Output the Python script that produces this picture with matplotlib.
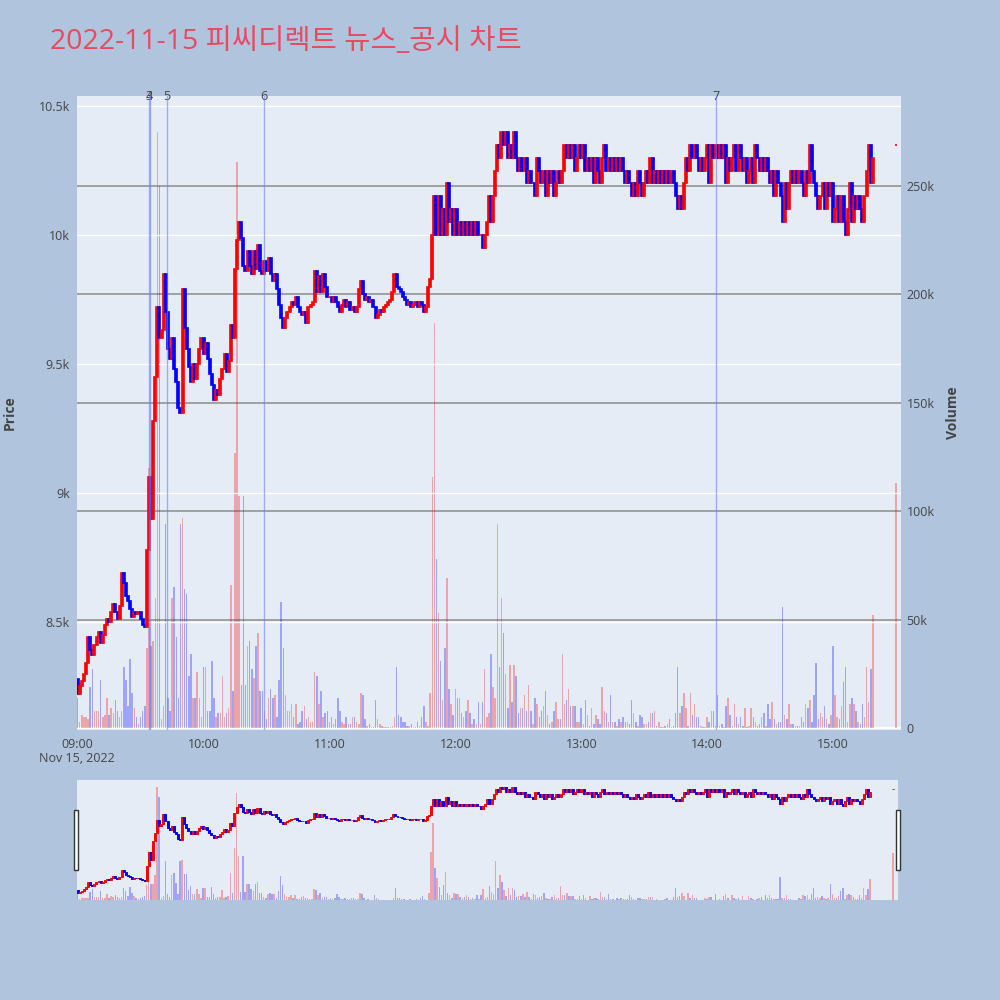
import matplotlib
matplotlib.use("Agg")
import matplotlib.pyplot as plt
from matplotlib.patches import Rectangle
import matplotlib.transforms as mtransforms

plt.rcParams['font.family'] = ['Open Sans', 'Noto Sans CJK KR', 'DejaVu Sans']

title = "2022-11-15 피씨디렉트 뉴스_공시 차트"

# minutes after 09:00 (one candle per minute, plus the 15:30 close)
minutes = list(range(380)) + [390]

first_open = 8280
close_auction_open = 10350
close_px = [
    8220, 8250, 8270, 8300, 8340, 8440, 8390, 8370, 8410, 8440,
    8460, 8420, 8450, 8490, 8510, 8500, 8540, 8570, 8540, 8510,
    8560, 8690, 8650, 8600, 8580, 8550, 8520, 8540, 8530, 8540,
    8510, 8490, 8480, 8780, 9060, 8900, 9280, 9450, 9720, 9600,
    9630, 9850, 9700, 9560, 9520, 9600, 9480, 9430, 9330, 9310,
    9790, 9640, 9560, 9490, 9430, 9500, 9440, 9500, 9560, 9600,
    9540, 9580, 9520, 9460, 9420, 9360, 9400, 9380, 9440, 9480,
    9540, 9470, 9510, 9650, 9600, 9870, 9980, 10050, 9990, 9880,
    9860, 9940, 9880, 9850, 9940, 9870, 9960, 9860, 9850, 9900,
    9860, 9910, 9850, 9820, 9850, 9790, 9730, 9680, 9640, 9680,
    9700, 9720, 9740, 9730, 9760, 9720, 9700, 9690, 9700, 9660,
    9720, 9730, 9740, 9860, 9780, 9840, 9780, 9850, 9800, 9760,
    9760, 9740, 9760, 9740, 9720, 9700, 9730, 9750, 9720, 9740,
    9710, 9720, 9700, 9720, 9790, 9820, 9770, 9750, 9760, 9740,
    9750, 9720, 9680, 9690, 9710, 9700, 9720, 9730, 9740, 9750,
    9780, 9850, 9800, 9790, 9780, 9760, 9750, 9730, 9740, 9720,
    9730, 9740, 9720, 9740, 9730, 9700, 9720, 9800, 9830, 10000,
    10150, 10000, 10150, 10000, 10100, 10000, 10200, 10050, 10100, 10000,
    10100, 10000, 10050, 10000, 10050, 10000, 10050, 10000, 10050, 10000,
    10050, 10000, 10000, 9950, 10000, 10050, 10150, 10050, 10150, 10250,
    10350, 10300, 10400, 10350, 10400, 10300, 10350, 10300, 10400, 10300,
    10250, 10300, 10250, 10300, 10200, 10250, 10200, 10200, 10150, 10300,
    10250, 10200, 10250, 10150, 10250, 10200, 10250, 10150, 10200, 10250,
    10200, 10250, 10350, 10300, 10350, 10300, 10350, 10250, 10300, 10350,
    10300, 10350, 10250, 10300, 10250, 10300, 10200, 10300, 10250, 10200,
    10300, 10350, 10250, 10300, 10250, 10300, 10250, 10300, 10250, 10300,
    10250, 10200, 10250, 10200, 10150, 10200, 10150, 10250, 10200, 10150,
    10200, 10250, 10200, 10300, 10200, 10250, 10200, 10250, 10200, 10250,
    10200, 10250, 10200, 10250, 10200, 10150, 10100, 10150, 10100, 10200,
    10300, 10250, 10350, 10300, 10350, 10300, 10250, 10300, 10250, 10300,
    10350, 10200, 10350, 10300, 10350, 10300, 10350, 10300, 10350, 10200,
    10300, 10250, 10300, 10350, 10250, 10350, 10300, 10250, 10300, 10200,
    10250, 10300, 10200, 10350, 10300, 10250, 10300, 10250, 10300, 10250,
    10200, 10250, 10150, 10250, 10200, 10150, 10050, 10200, 10100, 10200,
    10250, 10200, 10250, 10200, 10250, 10200, 10150, 10250, 10200, 10350,
    10250, 10200, 10150, 10100, 10150, 10200, 10100, 10200, 10150, 10200,
    10050, 10100, 10150, 10050, 10150, 10050, 10000, 10100, 10200, 10050,
    10150, 10100, 10150, 10100, 10050, 10150, 10250, 10350, 10200, 10300,
    10350,
]

# volume in thousands of shares
volume_k = [
    14, 3, 6, 5, 5, 4, 19, 27, 8, 8,
    8, 22, 5, 6, 14, 6, 9, 7, 13, 8,
    5, 8, 28, 22, 10, 32, 16, 9, 5, 2,
    5, 8, 10, 37, 120, 38, 40, 60, 275, 250,
    4, 10, 94, 14, 8, 60, 65, 42, 14, 94,
    97, 64, 62, 24, 34, 14, 14, 26, 14, 5,
    28, 28, 8, 8, 31, 14, 5, 7, 7, 24,
    5, 7, 9, 66, 17, 127, 261, 107, 20, 107,
    20, 38, 40, 27, 23, 38, 44, 17, 17, 8,
    4, 14, 18, 14, 15, 5, 22, 58, 37, 15,
    8, 8, 11, 5, 11, 2, 3, 8, 10, 4,
    5, 3, 3, 26, 24, 11, 17, 5, 7, 8,
    3, 5, 2, 4, 14, 8, 3, 2, 5, 2,
    2, 5, 5, 3, 2, 16, 15, 4, 1, 2,
    0.5, 0.5, 13, 4, 2, 1, 0.5, 0.5, 0.5, 0.5,
    1, 5, 28, 6, 5, 3, 3, 1, 1, 2,
    0.5, 0.5, 3, 1, 5, 10, 3, 1, 16, 116,
    187, 78, 53, 31, 13, 37, 69, 18, 11, 6,
    18, 14, 14, 7, 5, 8, 13, 7, 2, 4,
    2, 12, 2, 12, 27, 5, 7, 34, 19, 14,
    94, 28, 60, 44, 25, 9, 29, 12, 29, 24,
    7, 9, 9, 15, 8, 20, 8, 2, 14, 11,
    5, 8, 10, 17, 6, 2, 3, 8, 12, 4,
    4, 34, 11, 13, 18, 10, 10, 10, 3, 3,
    9, 2, 13, 6, 1, 9, 2, 6, 4, 2,
    19, 8, 7, 3, 15, 3, 3, 1, 4, 3,
    5, 3, 3, 2, 13, 7, 3, 1, 6, 5,
    2, 2, 3, 7, 7, 8, 1, 3, 0.5, 0.5,
    1, 2, 4, 0.5, 1, 7, 28, 7, 10, 16,
    9, 1, 16, 6, 11, 5, 5, 1, 0.5, 0.5,
    5, 3, 8, 8, 1, 15, 1, 2, 0.5, 10,
    14, 6, 1, 11, 5, 2, 5, 1, 9, 0.5,
    1, 9, 5, 3, 1, 2, 5, 7, 1, 11,
    4, 12, 4, 2, 3, 3, 56, 6, 4, 11,
    2, 2, 1, 1, 1, 5, 3, 11, 9, 13,
    3, 15, 30, 4, 7, 5, 10, 4, 2, 6,
    38, 15, 5, 4, 10, 21, 28, 3, 11, 14,
    11, 8, 3, 2, 11, 5, 28, 12, 27, 52,
    113,
]

# news / disclosure markers (minutes after 09:00)
event_minutes = [34.1, 34.3, 42.4, 88.6, 304.3]
event_labels = ["3", "4", "5", "6", "7"]

hour_ticks = [0, 60, 120, 180, 240, 300, 360]
hour_labels = ["09:00", "10:00", "11:00", "12:00", "13:00", "14:00", "15:00"]
price_ticks = [8500, 9000, 9500, 10000, 10500]
price_labels = ["8.5k", "9k", "9.5k", "10k", "10.5k"]
vol_ticks = [0, 50000, 100000, 150000, 200000, 250000]
vol_labels = ["0", "50k", "100k", "150k", "200k", "250k"]

# regular session opens at the previous close; the 15:30 auction has its own open
open_px = [first_open] + close_px[:-2] + [close_auction_open]
volume = [v * 1000 for v in volume_k]
up = [c >= o for o, c in zip(open_px, close_px)]
candle_colors = ["#FF0000" if u else "#0000FF" for u in up]

BG = "#B0C4DE"
PLOT_BG = "#E5ECF6"
TXT = "#444444"
XLIM = (-0.3, 392.4)
PLIM = (8081, 10539)
VLIM = (-920, 291500)


def draw_candles(ax, lw):
    bottoms = [min(o, c) for o, c in zip(open_px, close_px)]
    heights = [abs(c - o) for o, c in zip(open_px, close_px)]
    ax.bar(minutes, heights, bottom=bottoms, width=0.95, color=candle_colors,
           edgecolor=candle_colors, linewidth=lw, zorder=3)


def draw_volume(ax):
    ax.bar(minutes, volume, width=0.7, color=candle_colors, alpha=0.3,
           linewidth=0, zorder=2)


fig = plt.figure(figsize=(10, 10), dpi=100, facecolor=BG)

# main panel: volume underneath, price on a twin axis on top
ax_vol = fig.add_axes([0.077, 0.27, 0.824, 0.634])
ax_vol.set_facecolor(PLOT_BG)
ax_px = ax_vol.twinx()

draw_volume(ax_vol)
ax_vol.set_xlim(*XLIM)
ax_vol.set_ylim(*VLIM)
for v in vol_ticks[1:]:
    ax_vol.axhline(v, color="#939393", lw=1.2, zorder=1)
ax_vol.axhline(0, color="white", lw=1.5, zorder=1)
ax_vol.yaxis.tick_right()
ax_vol.set_yticks(vol_ticks)
ax_vol.set_yticklabels(vol_labels)
ax_vol.set_xticks(hour_ticks)
ax_vol.set_xticklabels(hour_labels)
ax_vol.tick_params(axis="both", length=0, labelsize=9, colors=TXT)
ax_vol.tick_params(axis="y", pad=4)
ax_vol.tick_params(axis="x", pad=6)

ax_px.set_ylim(*PLIM)
ax_px.set_xlim(*XLIM)
for p in price_ticks:
    ax_px.axhline(p, color="white", lw=1.0, zorder=1)
draw_candles(ax_px, 1.2)
ax_px.yaxis.tick_left()
ax_px.set_yticks(price_ticks)
ax_px.set_yticklabels(price_labels)
ax_px.tick_params(axis="y", length=0, labelsize=9, colors=TXT, pad=5)

for a in (ax_vol, ax_px):
    for s in a.spines.values():
        s.set_visible(False)

# event lines and their labels
trans = mtransforms.blended_transform_factory(ax_px.transData, ax_px.transAxes)
for m, lab in zip(event_minutes, event_labels):
    ax_px.axvline(m, color="#6f7ff0", lw=1.0, alpha=0.6, zorder=4)
    ax_px.text(m, 1.0, lab, transform=trans, ha="center", va="center",
               fontsize=9, color=TXT, clip_on=False)

fig.text(0.077, 0.242, "Nov 15, 2022", ha="center", va="center", fontsize=9, color=TXT)
fig.text(0.05, 0.958, title, ha="left", va="center", fontsize=20.5, color="#E84A5F",
         family=['Open Sans', 'Noto Sans CJK KR'])
fig.text(0.010, 0.587, "Price", rotation=90, ha="center", va="center",
         fontsize=10, fontweight="bold", color=TXT)
fig.text(0.953, 0.587, "Volume", rotation=90, ha="center", va="center",
         fontsize=10, fontweight="bold", color=TXT)

# range slider
sl_vol = fig.add_axes([0.077, 0.10, 0.821, 0.12])
sl_vol.set_facecolor(PLOT_BG)
draw_volume(sl_vol)
sl_vol.set_xlim(*XLIM)
sl_vol.set_ylim(0, 291500)
sl_px = sl_vol.twinx()
draw_candles(sl_px, 0.7)
sl_px.set_xlim(*XLIM)
sl_px.set_ylim(*PLIM)
for a in (sl_vol, sl_px):
    a.set_xticks([])
    a.set_yticks([])
    for s in a.spines.values():
        s.set_visible(False)

for hx in (0.0735, 0.8955):
    fig.patches.append(Rectangle((hx, 0.13), 0.004, 0.06, transform=fig.transFigure,
                                 facecolor="white", edgecolor="#333333", lw=1.0))

fig.savefig("out.png", dpi=100, facecolor=BG)
